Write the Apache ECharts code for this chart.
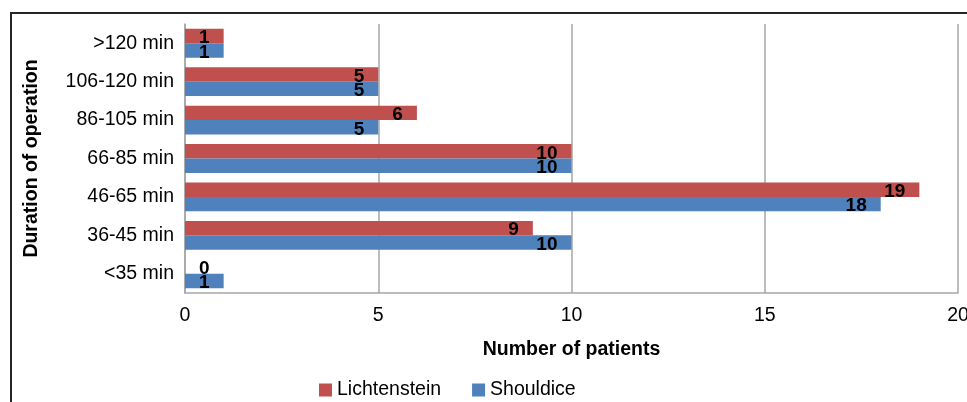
<!DOCTYPE html>
<html>
<head>
<meta charset="utf-8">
<script src="https://cdn.jsdelivr.net/npm/echarts@6/dist/echarts.min.js"></script>
<style>
  html, body { margin: 0; padding: 0; background: #fff; }
  #chart { width: 967px; height: 402px; }
</style>
</head>
<body>
<div id="chart"></div>
<script>
// Operation duration groups, listed bottom to top
const categories = ['<35 min', '36-45 min', '46-65 min', '66-85 min', '86-105 min', '106-120 min', '>120 min'];
const lichtenstein = [0, 9, 19, 10, 6, 5, 1];
const shouldice = [1, 10, 18, 10, 5, 5, 1];
const xTicks = { min: 0, max: 20, step: 5 };

const FONT = 'Liberation Sans, Arial, sans-serif';
const FS = 19.5;

// Value labels sit just inside the bar end; an empty bar gets its label beside the axis
function withLabels(values) {
  return values.map(v => v === 0
    ? { value: v, label: { position: 'insideLeft', distance: 14 } }
    : v);
}

const labelStyle = {
  show: true,
  position: 'insideRight',
  distance: 14,
  offset: [0, 2],
  color: '#000',
  fontFamily: FONT,
  fontWeight: 'bold',
  fontSize: 19
};

const chart = echarts.init(document.getElementById('chart'), null, { renderer: 'canvas' });
chart.setOption({
  animation: false,
  textStyle: { fontFamily: FONT },
  graphic: [{
    type: 'polyline',
    shape: { points: [[11, 402], [11, 13], [967, 13]] },
    style: { stroke: '#262626', lineWidth: 2, fill: null }
  }],
  grid: { left: 185, right: 9, top: 24, bottom: 109, containLabel: false, outerBoundsMode: 'none' },
  legend: {
    data: ['Lichtenstein', 'Shouldice'],
    left: 314,
    top: 375,
    icon: 'rect',
    itemWidth: 13,
    itemHeight: 13,
    itemGap: 31,
    textStyle: { fontFamily: FONT, fontSize: FS, color: '#000' }
  },
  xAxis: {
    type: 'value',
    min: xTicks.min,
    max: xTicks.max,
    interval: xTicks.step,
    name: 'Number of patients',
    nameLocation: 'middle',
    nameGap: 47,
    nameTextStyle: { fontFamily: FONT, fontWeight: 'bold', fontSize: FS, color: '#000' },
    axisLine: { show: true, lineStyle: { color: '#a6a6a6', width: 1.5 } },
    axisTick: { show: false },
    axisLabel: { fontFamily: FONT, fontSize: FS, color: '#000', margin: 13 },
    splitLine: { show: true, lineStyle: { color: '#a6a6a6', width: 1.5 } }
  },
  yAxis: {
    type: 'category',
    data: categories,
    name: 'Duration of operation',
    nameLocation: 'middle',
    nameRotate: 90,
    nameGap: 143,
    nameTextStyle: { fontFamily: FONT, fontWeight: 'bold', fontSize: FS, color: '#000' },
    axisLine: { show: true, lineStyle: { color: '#a6a6a6', width: 1.5 } },
    axisTick: { show: false },
    axisLabel: { fontFamily: FONT, fontSize: FS, color: '#000', margin: 11 }
  },
  series: [
    {
      name: 'Lichtenstein',
      type: 'bar',
      data: withLabels(lichtenstein),
      itemStyle: { color: '#C0504D' },
      barGap: '0%',
      barCategoryGap: '25%',
      label: labelStyle
    },
    {
      name: 'Shouldice',
      type: 'bar',
      data: withLabels(shouldice),
      itemStyle: { color: '#4F81BD' },
      barGap: '0%',
      barCategoryGap: '25%',
      label: labelStyle
    }
  ]
});
</script>
</body>
</html>
